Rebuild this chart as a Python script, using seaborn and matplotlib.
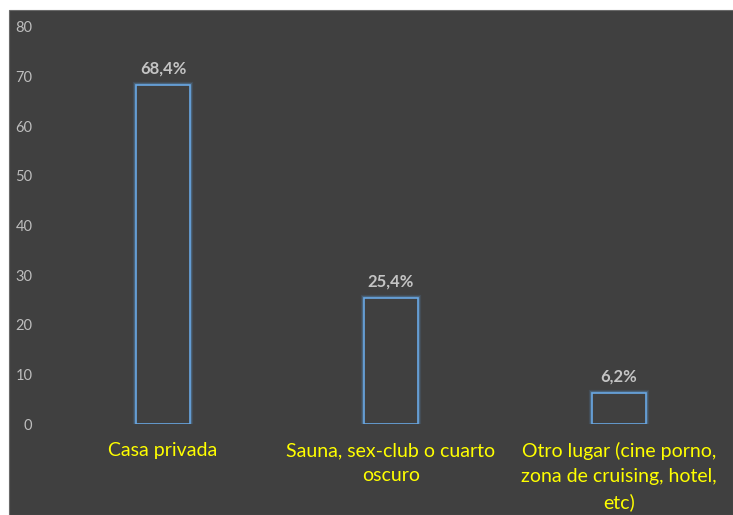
import matplotlib
matplotlib.use("Agg")
import matplotlib.pyplot as plt
import matplotlib.patheffects as pe
from matplotlib.patches import Rectangle
import seaborn as sns
import pandas as pd

categories = [
    "Casa privada",
    "Sauna, sex-club o cuarto\noscuro",
    "Otro lugar (cine porno,\nzona de cruising, hotel,\netc)",
]
values = [68.4, 25.4, 6.2]
value_labels = ["68,4%", "25,4%", "6,2%"]
y_ticks = [0, 10, 20, 30, 40, 50, 60, 70, 80]

BG = "#404040"
BLUE = "#5b9bd5"

sns.set_theme(style="white")
plt.rcParams["font.family"] = ["Lato", "DejaVu Sans"]

fig = plt.figure(figsize=(7.33, 5.15), dpi=100, facecolor="white")
panel = Rectangle((9 / 733, 0), 1 - 9 / 733, 505 / 515,
                  transform=fig.transFigure, facecolor=BG,
                  edgecolor="#6a6a6a", linewidth=0.8, zorder=-10)
fig.add_artist(panel)

ax = fig.add_axes([49 / 733, 91 / 515, 1 - 49 / 733, 397 / 515])
ax.set_facecolor("none")
ax.set_zorder(5)

df = pd.DataFrame({"lugar": categories, "pct": values})
sns.barplot(data=df, x="lugar", y="pct", ax=ax, width=0.237,
            color=BG, edgecolor="#6aa8e4", linewidth=1.2, saturation=1)

for bar in ax.patches:
    bar.set_facecolor(BG)
    bar.set_path_effects([pe.Stroke(linewidth=4.5, foreground=BLUE, alpha=0.15),
                          pe.Stroke(linewidth=2.8, foreground=BLUE, alpha=0.3),
                          pe.Normal()])

ax.bar_label(ax.containers[0], labels=value_labels, padding=6,
             color="#c4c4c4", fontsize=12, fontweight="bold")

ax.set_xlim(-0.5, 2.5)
ax.set_ylim(0, 80)
ax.set_yticks(y_ticks)
ax.set_xlabel("")
ax.set_ylabel("")
for s in ax.spines.values():
    s.set_visible(False)

ax.tick_params(axis="y", length=0, pad=12, labelsize=10.5, labelcolor="#bdbdbd")
ax.tick_params(axis="x", length=0, pad=13, labelsize=14, labelcolor="#ffff00")
for t in ax.get_xticklabels():
    t.set_linespacing(1.55)
    t.set_verticalalignment("top")

fig.savefig("out.png", dpi=100, facecolor="white")
